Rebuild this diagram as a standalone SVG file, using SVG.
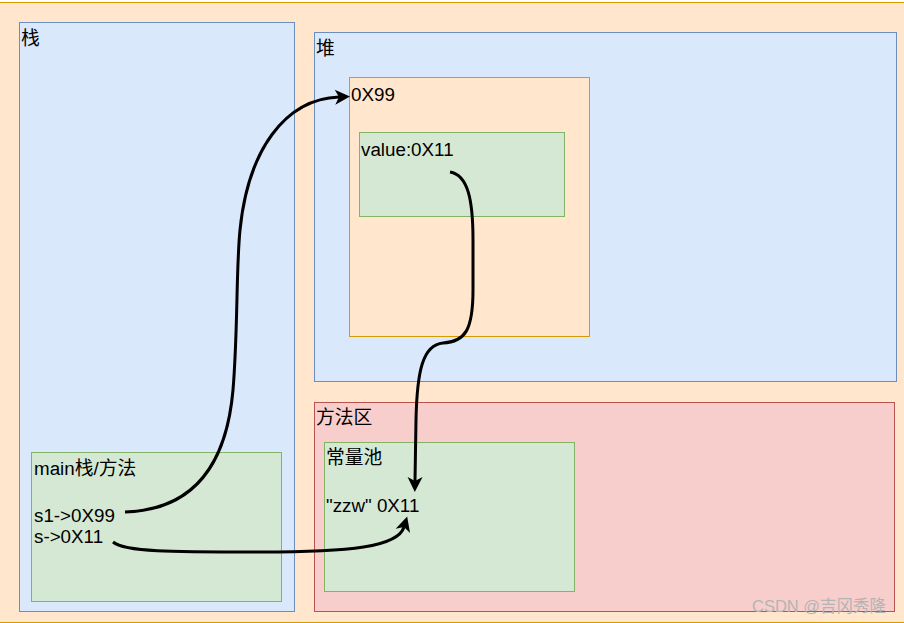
<svg xmlns="http://www.w3.org/2000/svg" width="904" height="623" viewBox="0 0 904 623">
<style>
text{font-family:"Liberation Sans","Noto Sans CJK SC",sans-serif;font-size:18.8px;fill:#000}
.blue{fill:#dae8fc;stroke:#6c8ebf;stroke-width:1}
.orange{fill:#ffe6cc;stroke:#d79b00;stroke-width:1}
.green{fill:#d5e8d4;stroke:#82b366;stroke-width:1}
.red{fill:#f8cecc;stroke:#b85450;stroke-width:1}
.edge{fill:none;stroke:#000;stroke-width:3}
.wm{font-size:16.5px;fill:#b4b4b4}
</style>
<defs>
<marker id="arr" viewBox="-5 -8 17 16" refX="0" refY="0" markerWidth="17" markerHeight="16" markerUnits="userSpaceOnUse" orient="auto">
<path d="M0,0 L-4,-7.5 L11,0 L-4,7.5 Z" fill="#000"/>
</marker>
</defs>
<g id="background"><rect class="orange" x="-2" y="2.5" width="908" height="620"/></g>
<g id="stack"><rect class="blue" x="19.5" y="22.5" width="275" height="589"/><text x="21" y="45">栈</text></g>
<g id="heap"><rect class="blue" x="314.5" y="32.5" width="582" height="349"/><text x="316" y="55">堆</text></g>
<g id="obj"><rect class="orange" x="349.5" y="77.5" width="240" height="259"/><text x="351" y="101">0X99</text></g>
<g id="value"><rect class="green" x="359.5" y="132.5" width="205" height="84"/><text x="361" y="156">value:0X11</text></g>
<g id="method"><rect class="red" x="314.5" y="402.5" width="580" height="209"/><text x="316" y="424">方法区</text></g>
<g id="pool"><rect class="green" x="324.5" y="442.5" width="250" height="149"/><text x="326" y="464">常量池</text><text x="326" y="512">"zzw" 0X11</text></g>
<g id="main"><rect class="green" x="31.5" y="452.5" width="250" height="149"/><text x="34" y="475">main栈/方法</text><text x="34" y="522">s1-&gt;0X99</text><text x="34" y="543">s-&gt;0X11</text></g>
<g id="connectors">
<path class="edge" marker-end="url(#arr)" d="M125,512 C190,510 226,470 233,390 C238,330 236,270 240,230 C248,150 285,99 339,97"/>
<path class="edge" marker-end="url(#arr)" d="M450,172 C468,175 473,200 473,240 L473,290 C473,330 465,342 443,343 C423,345 417,370 416,420 L415,481"/>
<path class="edge" marker-end="url(#arr)" d="M113,542 C125,552 170,552 260,552 C350,552 398,547 404,527"/>
</g>
<text class="wm" x="752" y="612">CSDN @吉冈秀隆</text>
</svg>
